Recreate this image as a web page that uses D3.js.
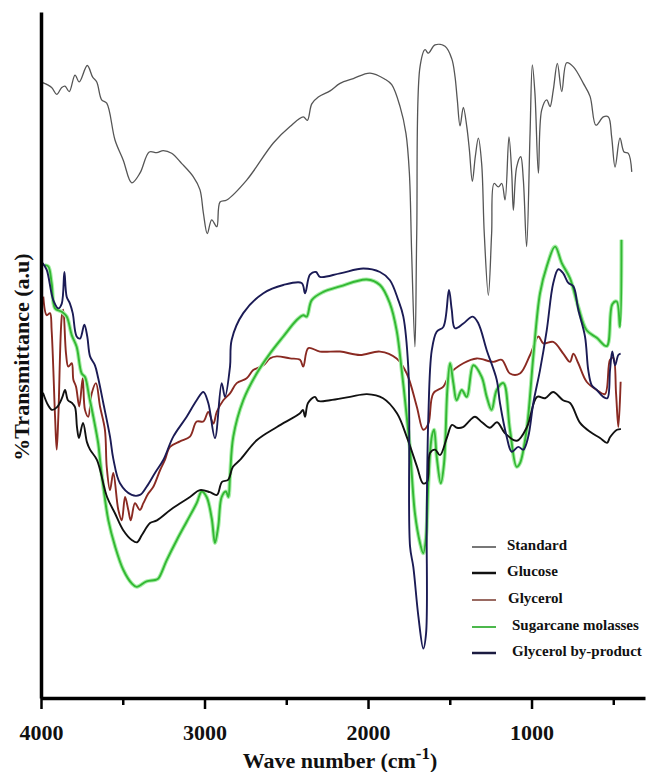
<!DOCTYPE html>
<html>
<head>
<meta charset="utf-8">
<script src="https://cdn.jsdelivr.net/npm/d3@7"></script>
<style>
  body { margin: 0; background: #fff; }
  svg text { font-family: "Liberation Serif", "Times New Roman", serif; font-weight: bold; }
</style>
</head>
<body>
<div id="chart"></div>
<script>
// series names, in legend order
const seriesNames = ["Standard", "Glucose", "Glycerol", "Sugarcane molasses", "Glycerol by-product"];
const seriesColors = ["#555555", "#111111", "#8a2a22", "#33b833", "#1b1b55"];
const legendColors = ["#777777", "#111111", "#9a6a62", "#4cb84c", "#1b1b40"];

const majorTicks = [4000, 3000, 2000, 1000];
const minorTicks = [3500, 2500, 1500, 500];

// [wave number (cm-1), transmittance (a.u.)]
const standard = [[3990,89.7],[3935,89.0],[3904,88.0],[3873,89.0],[3853,89.2],[3827,88.4],[3792,90.8],[3766,89.8],[3717,92.2],[3684,90.5],[3659,89.8],[3629,87.2],[3598,86.7],[3547,81.3],[3497,78.4],[3445,75.1],[3395,76.5],[3338,79.6],[3292,79.5],[3252,79.8],[3201,79.4],[3139,77.9],[3069,76.0],[3028,74.1],[3007,70.7],[2983,67.7],[2956,69.7],[2925,68.7],[2905,72.3],[2864,72.6],[2742,75.5],[2579,80.9],[2477,83.3],[2396,84.7],[2371,84.2],[2344,86.6],[2304,87.6],[2232,88.5],[2171,89.6],[2090,90.3],[1988,91.1],[1896,90.2],[1855,89.4],[1804,86.2],[1768,82.3],[1747,76.5],[1733,64.8],[1713,51.2],[1702,67.8],[1682,92.0],[1651,94.5],[1631,94.0],[1590,95.2],[1529,95.0],[1488,93.2],[1468,90.6],[1454,87.2],[1437,83.4],[1417,86.1],[1396,83.3],[1380,79.9],[1362,75.3],[1344,78.9],[1325,81.6],[1305,77.9],[1289,67.7],[1264,58.7],[1244,67.7],[1229,75.0],[1203,74.5],[1182,75.0],[1162,72.6],[1138,81.8],[1121,76.5],[1111,71.1],[1091,77.4],[1066,78.9],[1050,75.5],[1030,65.8],[1009,82.3],[995,92.3],[979,88.1],[958,76.5],[938,85.7],[907,87.2],[887,86.2],[867,88.6],[842,92.5],[815,88.4],[785,92.6],[744,92.0],[683,89.6],[642,87.7],[606,83.5],[561,84.7],[530,84.7],[510,81.8],[489,77.4],[459,81.6],[434,79.6],[408,79.4],[387,76.7]];

const glucose = [[3988,44.5],[3957,42.7],[3933,42.0],[3902,42.4],[3872,43.7],[3853,44.9],[3835,43.4],[3810,43.0],[3792,42.4],[3780,39.5],[3768,37.9],[3743,40.1],[3719,37.3],[3700,36.2],[3658,34.7],[3596,29.3],[3547,26.9],[3498,24.5],[3443,23.0],[3413,22.7],[3382,23.8],[3333,25.5],[3291,25.9],[3193,27.7],[3089,29.3],[3028,30.3],[2967,30.0],[2924,29.6],[2893,31.5],[2856,31.8],[2826,33.7],[2783,34.7],[2679,37.6],[2557,39.5],[2416,41.5],[2398,42.0],[2385,41.0],[2367,43.0],[2324,43.9],[2306,43.3],[2233,43.4],[2110,43.9],[2006,44.3],[1908,43.7],[1823,41.5],[1762,38.0],[1700,33.7],[1664,31.3],[1639,31.5],[1621,35.7],[1590,36.2],[1560,35.4],[1517,38.0],[1486,39.8],[1456,39.4],[1419,39.5],[1376,40.5],[1346,41.0],[1303,40.2],[1254,39.4],[1211,40.2],[1162,38.6],[1089,37.5],[1028,39.5],[966,43.9],[917,43.7],[868,44.6],[807,43.4],[764,43.0],[703,40.1],[642,38.8],[581,37.9],[538,37.2],[520,38.0],[477,39.1],[453,39.2]];

const glycerol = [[3986,58.5],[3965,55.8],[3945,56.1],[3935,53.6],[3914,41.0],[3904,36.2],[3894,41.0],[3873,55.6],[3864,56.6],[3847,50.2],[3833,48.3],[3812,48.8],[3802,46.4],[3786,45.4],[3766,42.5],[3745,46.6],[3731,42.0],[3711,41.0],[3690,44.4],[3664,45.9],[3639,42.5],[3609,39.1],[3598,33.7],[3578,30.3],[3558,32.8],[3527,27.4],[3506,25.9],[3486,29.3],[3466,27.4],[3451,25.9],[3425,28.4],[3395,27.4],[3374,28.4],[3344,29.8],[3313,30.8],[3272,33.2],[3242,34.7],[3211,36.6],[3150,37.4],[3089,38.1],[3048,40.3],[3007,40.3],[2977,41.7],[2946,40.0],[2925,41.7],[2885,43.4],[2844,44.4],[2803,45.9],[2742,46.6],[2702,47.8],[2640,48.5],[2600,49.5],[2558,49.8],[2477,49.5],[2416,49.3],[2396,48.3],[2365,51.0],[2294,50.5],[2171,50.5],[2049,50.0],[1927,50.5],[1825,49.5],[1763,47.3],[1702,42.5],[1662,39.1],[1631,40.0],[1601,44.4],[1539,45.4],[1498,47.3],[1417,48.8],[1335,49.5],[1234,49.0],[1182,49.3],[1132,47.3],[1071,47.3],[1009,50.0],[958,52.7],[928,51.7],[867,51.9],[806,50.2],[765,49.0],[744,50.2],[714,48.8],[663,46.1],[601,44.9],[551,44.3],[520,49.3],[500,49.6],[483,44.4],[469,39.5],[455,46.1]];

const molasses = [[3976,63.1],[3955,62.9],[3935,60.5],[3914,56.8],[3873,56.3],[3843,55.6],[3812,52.9],[3782,51.2],[3751,47.3],[3731,46.8],[3705,43.9],[3680,41.0],[3650,37.1],[3639,34.7],[3619,30.8],[3588,25.9],[3547,22.1],[3497,18.7],[3445,16.7],[3415,16.2],[3354,17.0],[3303,17.2],[3283,17.4],[3231,20.1],[3170,23.0],[3109,25.7],[3048,28.4],[3017,30.1],[2987,29.3],[2956,26.2],[2936,22.6],[2916,25.0],[2895,29.3],[2869,30.1],[2854,29.3],[2844,32.3],[2824,38.1],[2763,43.4],[2681,47.3],[2600,50.2],[2518,52.7],[2436,55.1],[2396,55.8],[2375,55.6],[2344,58.0],[2273,59.2],[2171,60.0],[2008,61.0],[1927,60.2],[1866,57.5],[1825,53.6],[1794,47.8],[1763,41.0],[1743,36.2],[1713,26.9],[1682,22.6],[1662,21.1],[1645,23.5],[1631,31.3],[1610,38.1],[1596,39.1],[1580,35.2],[1555,31.3],[1535,34.2],[1515,44.9],[1498,48.8],[1478,45.9],[1458,43.4],[1427,44.9],[1396,43.9],[1356,48.5],[1305,46.8],[1274,43.9],[1244,42.0],[1213,44.9],[1172,45.9],[1132,39.1],[1091,33.7],[1071,34.2],[1030,39.1],[989,49.8],[948,59.0],[907,62.9],[856,65.8],[815,63.4],[765,61.2],[714,57.0],[663,53.6],[601,52.5],[540,51.3],[506,57.4],[479,57.8],[459,54.1],[450,66.8]];

const byproduct = [[3990,63.4],[3965,62.4],[3925,58.0],[3894,56.8],[3873,57.5],[3857,62.1],[3843,58.5],[3823,57.5],[3806,56.1],[3782,52.7],[3761,52.4],[3735,54.4],[3717,52.7],[3700,49.8],[3670,48.5],[3650,46.6],[3619,43.0],[3578,38.1],[3558,34.9],[3517,31.3],[3445,29.6],[3395,29.6],[3354,30.8],[3303,32.8],[3252,34.7],[3191,38.1],[3109,41.0],[3048,43.4],[3007,44.6],[2977,43.0],[2936,37.9],[2895,45.9],[2875,43.9],[2844,48.3],[2834,52.2],[2763,56.1],[2640,59.0],[2518,60.2],[2406,60.5],[2385,59.0],[2355,61.7],[2318,62.1],[2294,61.4],[2171,61.9],[2029,62.6],[1927,62.1],[1866,60.9],[1815,58.0],[1784,55.6],[1754,48.3],[1748,41.0],[1743,22.1],[1723,19.1],[1692,11.9],[1662,7.2],[1645,9.4],[1641,26.4],[1631,41.0],[1610,50.7],[1580,53.4],[1539,54.1],[1505,59.5],[1488,56.6],[1468,53.9],[1417,54.6],[1360,55.6],[1325,54.6],[1274,50.7],[1213,46.4],[1193,43.0],[1152,38.1],[1121,35.9],[1081,36.6],[1050,36.2],[1020,38.1],[989,43.0],[948,47.8],[907,53.6],[867,60.5],[836,62.5],[806,61.9],[775,60.5],[744,60.0],[714,56.6],[673,52.7],[653,47.8],[632,45.6],[601,44.9],[561,43.9],[536,43.7],[520,47.8],[506,50.5],[489,48.5],[469,50.0],[455,50.2]];

const seriesData = [standard, glucose, glycerol, molasses, byproduct];
const drawOrder = [0, 2, 3, 1, 4];

const width = 649, height = 772;
const svg = d3.select("#chart").append("svg")
    .attr("width", width)
    .attr("height", height);

const x = d3.scaleLinear().domain([4000, 306]).range([41, 645]);
const y = d3.scaleLinear().domain([0, 100]).range([698, 12]);

const line = d3.line()
    .curve(d3.curveCatmullRom.alpha(0.5))
    .x(d => x(d[0]))
    .y(d => y(d[1]));

// spectra
drawOrder.forEach(i => {
    if (i === 3) {
        // light halo under the molasses trace
        svg.append("path")
            .datum(seriesData[i])
            .attr("fill", "none")
            .attr("stroke", "#a8eea8")
            .attr("stroke-width", 4)
            .attr("stroke-linejoin", "round")
            .attr("d", line);
    }
    svg.append("path")
        .datum(seriesData[i])
        .attr("fill", "none")
        .attr("stroke", seriesColors[i])
        .attr("stroke-width", i === 0 ? 1.3 : 1.9)
        .attr("stroke-linejoin", "round")
        .attr("d", line);
});

// minor ticks
svg.append("g")
    .attr("transform", "translate(0,698)")
    .call(d3.axisBottom(x).tickValues(minorTicks).tickSize(7).tickSizeOuter(0).tickFormat(""))
    .call(g => g.select(".domain").remove())
    .call(g => g.selectAll(".tick line").attr("stroke-width", 2.5));

// major ticks + bottom axis
const xAxis = svg.append("g")
    .attr("transform", "translate(0,698)")
    .call(d3.axisBottom(x).tickValues(majorTicks).tickSize(11).tickSizeOuter(0).tickFormat(d3.format("d")));
xAxis.select(".domain").attr("stroke-width", 3.5);
xAxis.selectAll(".tick line").attr("stroke-width", 2.5);
xAxis.selectAll(".tick text")
    .attr("y", 26)
    .attr("fill", "#111")
    .style("font-size", "22px")
    .style("font-family", "'Liberation Serif', serif")
    .style("font-weight", "bold");

// left axis line
const yAxis = svg.append("g")
    .attr("transform", "translate(41,0)")
    .call(d3.axisLeft(y).tickValues([]).tickSizeOuter(0));
yAxis.select(".domain").attr("stroke-width", 3.5);

// axis titles
const xTitle = svg.append("text")
    .attr("x", 340)
    .attr("y", 768)
    .attr("text-anchor", "middle")
    .style("font-size", "22px")
    .attr("fill", "#111");
xTitle.append("tspan").text("Wave number (cm");
xTitle.append("tspan").attr("dy", -9).style("font-size", "17px").text("-1");
xTitle.append("tspan").attr("dy", 9).text(")");

svg.append("text")
    .attr("transform", "translate(29,357) rotate(-90)")
    .attr("text-anchor", "middle")
    .style("font-size", "22px")
    .attr("fill", "#111")
    .text("%Transmittance (a.u)");

// legend
const legendY = [547, 573, 600, 627, 653];
const legendTextX = [507, 507, 508, 512, 512];
const legend = svg.append("g");
seriesNames.forEach((name, i) => {
    legend.append("line")
        .attr("x1", 472).attr("x2", 496)
        .attr("y1", legendY[i]).attr("y2", legendY[i])
        .attr("stroke", legendColors[i])
        .attr("stroke-width", i === 1 || i === 4 ? 2.5 : 2);
    legend.append("text")
        .attr("x", legendTextX[i])
        .attr("y", legendY[i] + 3)
        .style("font-size", "15px")
        .attr("fill", "#111")
        .text(name);
});
</script>
</body>
</html>
